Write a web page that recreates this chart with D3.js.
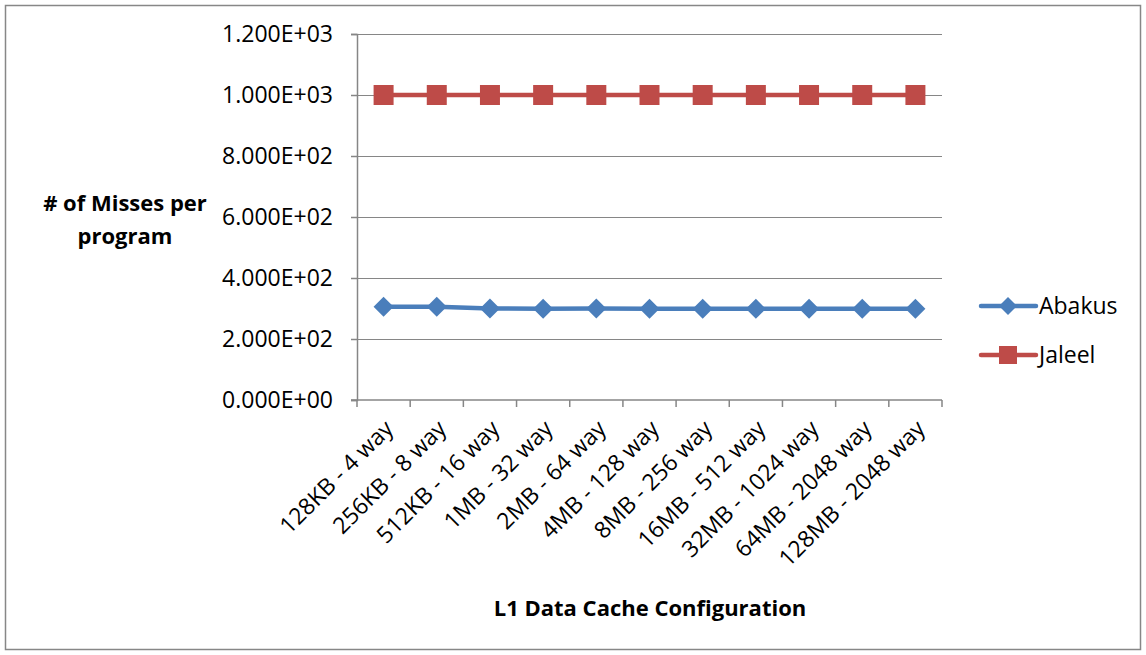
<!DOCTYPE html>
<html>
<head>
<meta charset="utf-8">
<script src="https://cdn.jsdelivr.net/npm/d3@7"></script>
<style>
  body{margin:0;background:#fff;}
  text{font-family:"Open Sans","Liberation Sans",sans-serif;fill:#000;}
</style>
</head>
<body>
<div id="chart"></div>
<script>
// data
const categories = ["128KB - 4 way","256KB - 8 way","512KB - 16 way","1MB - 32 way","2MB - 64 way",
  "4MB - 128 way","8MB - 256 way","16MB - 512 way","32MB - 1024 way","64MB - 2048 way","128MB - 2048 way"];
const abakus = [306, 306, 300, 299, 300, 299, 299, 299, 299, 299, 299];
const jaleel = [1000, 1000, 1000, 1000, 1000, 1000, 1000, 1000, 1000, 1000, 1000];
const yTicks = [0, 200, 400, 600, 800, 1000, 1200];

const w = 1146, h = 655;
const fs = "23px";
const svg = d3.select("#chart").append("svg").attr("width", w).attr("height", h);

// outer frame
svg.append("rect").attr("x", 5.5).attr("y", 5.5).attr("width", 1135).attr("height", 644)
  .attr("fill", "none").attr("stroke", "#878787").attr("stroke-width", 1.5);

const pLeft = 357, pRight = 942, pTop = 34, pBottom = 400;

const x = d3.scaleBand().domain(categories).range([pLeft, pRight]);
const y = d3.scaleLinear().domain([0, 1200]).range([pBottom, pTop]);

// gridlines
svg.append("g").selectAll("line").data(yTicks.slice(1)).enter().append("line")
  .attr("x1", pLeft).attr("x2", pRight)
  .attr("y1", d => Math.round(y(d)) + 0.5).attr("y2", d => Math.round(y(d)) + 0.5)
  .attr("stroke", "#868686").attr("stroke-width", 1);

// y axis
const yAxis = svg.append("g").attr("transform", "translate(" + pLeft + ",0)")
  .call(d3.axisLeft(y).tickValues(yTicks).tickSize(6).tickPadding(18)
    .tickFormat(d => d.toExponential(3).replace("e", "E").replace(/E([+-])(\d)$/, "E$10$2")));
yAxis.select(".domain").attr("stroke", "#868686").attr("stroke-width", 1.5);
yAxis.selectAll(".tick line").attr("stroke", "#868686").attr("stroke-width", 1.5);
yAxis.selectAll("text").attr("font-size", fs).style("font-family", "'Open Sans',sans-serif");

// x axis with ticks at band edges
const xg = svg.append("g");
xg.append("line").attr("x1", pLeft - 6).attr("x2", pRight).attr("y1", pBottom).attr("y2", pBottom)
  .attr("stroke", "#868686").attr("stroke-width", 1.5);
const edges = categories.map(c => x(c)).concat([pRight]);
xg.selectAll("line.t").data(edges).enter().append("line").attr("class", "t")
  .attr("x1", d => d).attr("x2", d => d).attr("y1", pBottom).attr("y2", pBottom + 7)
  .attr("stroke", "#868686").attr("stroke-width", 1.5);
xg.selectAll("text").data(categories).enter().append("text")
  .attr("transform", d => "translate(" + (x(d) + x.bandwidth() / 2 + 11) + "," + (pBottom + 30) + ") rotate(-45)")
  .attr("text-anchor", "end").attr("font-size", fs)
  .text(d => d);

// lines
const line = d3.line().x((d, i) => x(categories[i]) + x.bandwidth() / 2).y(d => y(d));
const series = [
  {name: "Abakus", values: abakus, color: "#4A7EBB", shape: "diamond"},
  {name: "Jaleel", values: jaleel, color: "#BE4B48", shape: "square"}
];
const diamond = s => "M0," + (-s) + "L" + s + ",0L0," + s + "L" + (-s) + ",0Z";
const square = s => "M" + (-s) + "," + (-s) + "h" + 2 * s + "v" + 2 * s + "h" + (-2 * s) + "Z";

series.forEach(s => {
  svg.append("path").datum(s.values).attr("d", line)
    .attr("fill", "none").attr("stroke", s.color).attr("stroke-width", 4.5).attr("stroke-linejoin", "round");
  svg.append("g").selectAll("path").data(s.values).enter().append("path")
    .attr("transform", (d, i) => "translate(" + (x(categories[i]) + x.bandwidth() / 2) + "," + y(d) + ")")
    .attr("d", s.shape === "diamond" ? diamond(10) : square(10))
    .attr("fill", s.color);
});

// legend
const legend = svg.append("g");
series.forEach((s, i) => {
  const ly = 306 + i * 49;
  legend.append("line").attr("x1", 981).attr("x2", 1036).attr("y1", ly).attr("y2", ly)
    .attr("stroke", s.color).attr("stroke-width", 4.5).attr("stroke-linecap", "round");
  legend.append("path").attr("transform", "translate(1008," + ly + ")")
    .attr("d", s.shape === "diamond" ? diamond(9) : square(9)).attr("fill", s.color);
  legend.append("text").attr("x", 1039).attr("y", ly + 8).attr("font-size", fs).text(s.name);
});

// axis titles
svg.append("text").attr("x", 125).attr("y", 211).attr("text-anchor", "middle")
  .attr("font-size", "22px").attr("font-weight", "bold").text("# of Misses per");
svg.append("text").attr("x", 125).attr("y", 244).attr("text-anchor", "middle")
  .attr("font-size", "22px").attr("font-weight", "bold").text("program");
svg.append("text").attr("x", 650).attr("y", 616).attr("text-anchor", "middle")
  .attr("font-size", "22px").attr("font-weight", "bold").text("L1 Data Cache Configuration");
</script>
</body>
</html>
